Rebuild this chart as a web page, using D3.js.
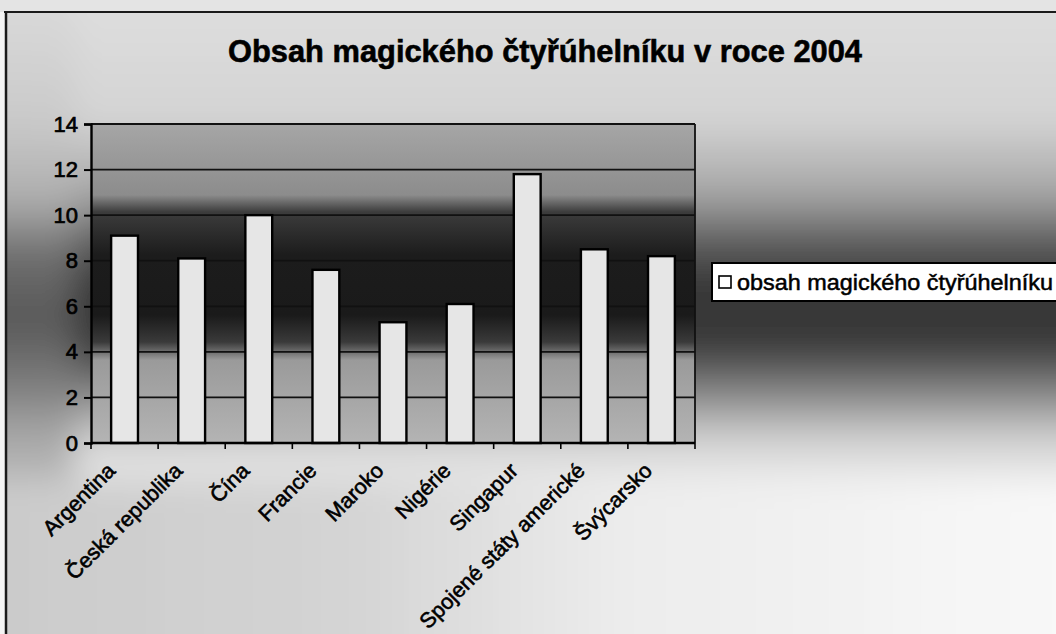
<!DOCTYPE html>
<html>
<head>
<meta charset="utf-8">
<script src="https://cdn.jsdelivr.net/npm/d3@7"></script>
<style>
  html, body { margin: 0; padding: 0; background: #f2f2f2; }
  svg { display: block; }
  text { font-family: "Liberation Sans", Arial, sans-serif; fill: #000; }
</style>
</head>
<body>
<svg id="chart" width="1056" height="634"></svg>
<script>
const titleText = "Obsah magického čtyřúhelníku v roce 2004";
const seriesName = "obsah magického čtyřúhelníku";
const categories = ["Argentina", "Česká republika", "Čína", "Francie", "Maroko", "Nigérie", "Singapur", "Spojené státy americké", "Švýcarsko"];
const values = [9.1, 8.1, 10.0, 7.6, 5.3, 6.1, 11.8, 8.5, 8.2];
const yTicks = [0, 2, 4, 6, 8, 10, 12, 14];

const W = 1056, H = 634;
const plot = { left: 91, right: 695, top: 124, bottom: 443 };

const svg = d3.select("#chart");
const defs = svg.append("defs");

function vGrad(id, stops) {
  const g = defs.append("linearGradient").attr("id", id)
    .attr("gradientUnits", "userSpaceOnUse")
    .attr("x1", 0).attr("x2", 0).attr("y1", 0).attr("y2", H);
  stops.forEach(([y, c]) => g.append("stop").attr("offset", y / H).attr("stop-color", c));
}
function hGrad(id, stops) {
  const g = defs.append("linearGradient").attr("id", id)
    .attr("gradientUnits", "userSpaceOnUse")
    .attr("x1", 0).attr("x2", W).attr("y1", 0).attr("y2", 0);
  stops.forEach(([x, c]) => g.append("stop").attr("offset", x / W).attr("stop-color", c));
}

vGrad("gRight", [[0, "#dedede"], [120, "#d4d4d4"], [195, "#a4a4a4"], [245, "#5a5a5a"], [290, "#343434"], [345, "#3a3a3a"], [395, "#8a8a8a"], [440, "#d2d2d2"], [490, "#f0f0f0"], [634, "#f6f6f6"]]);
vGrad("gMid", [[0, "#dcdcdc"], [124, "#a6a6a6"], [195, "#8c8c8c"], [212, "#3c3c3c"], [255, "#1c1c1c"], [315, "#1a1a1a"], [342, "#3a3a3a"], [360, "#9a9a9a"], [443, "#b4b4b4"], [634, "#dcdcdc"]]);
vGrad("gLeft", [[0, "#dadada"], [120, "#cacaca"], [200, "#adadad"], [255, "#6e6e6e"], [320, "#585858"], [380, "#7a7a7a"], [440, "#aaaaaa"], [520, "#c4c4c4"], [634, "#d2d2d2"]]);
hGrad("gBottom", [[0, "#cbcbcb"], [350, "#d4d4d4"], [620, "#ececec"], [1056, "#f8f8f8"]]);

const blur = defs.append("filter").attr("id", "blur").attr("x", -0.1).attr("y", -0.1).attr("width", 1.2).attr("height", 1.2);
blur.append("feGaussianBlur").attr("stdDeviation", 16);
defs.append("clipPath").attr("id", "frameClip").append("rect")
  .attr("x", 7).attr("y", 13).attr("width", W - 7).attr("height", H - 13);

// page outside the chart frame
svg.append("rect").attr("x", 0).attr("y", 0).attr("width", W).attr("height", H).attr("fill", "#f4f4f4");
svg.append("rect").attr("x", 0).attr("y", 0).attr("width", W).attr("height", 12).attr("fill", "#e4e4e4");

// chart area background (soft blended zones)
const bgClip = svg.append("g").attr("clip-path", "url(#frameClip)");
const bg = bgClip.append("g").attr("filter", "url(#blur)");
bg.append("rect").attr("x", 40).attr("y", -40).attr("width", W + 40).attr("height", H + 80).attr("fill", "url(#gRight)");
bg.append("rect").attr("x", -40).attr("y", -40).attr("width", 115).attr("height", H + 80).attr("fill", "url(#gLeft)");
bg.append("rect").attr("x", -40).attr("y", 480).attr("width", W + 80).attr("height", 220).attr("fill", "url(#gBottom)");

// plot area background (sharp)
svg.append("rect").attr("x", plot.left).attr("y", plot.top)
  .attr("width", plot.right - plot.left).attr("height", plot.bottom - plot.top)
  .attr("fill", "url(#gMid)");

// frame lines
svg.append("line").attr("x1", 4).attr("x2", W).attr("y1", 12).attr("y2", 12).attr("stroke", "#1a1a1a").attr("stroke-width", 2);
svg.append("line").attr("x1", 6).attr("x2", 6).attr("y1", 12).attr("y2", H).attr("stroke", "#1a1a1a").attr("stroke-width", 2.5);

// scales
const x = d3.scaleBand().domain(categories).range([plot.left, plot.right]).paddingInner(0.6).paddingOuter(0.3);
const y = d3.scaleLinear().domain([0, 14]).range([plot.bottom, plot.top]);

// gridlines
svg.append("g").selectAll("line").data(yTicks.filter(d => d > 0)).join("line")
  .attr("x1", plot.left).attr("x2", plot.right)
  .attr("y1", d => y(d)).attr("y2", d => y(d))
  .attr("stroke", "#111").attr("stroke-width", 1.8);

// right border of plot
svg.append("line").attr("x1", plot.right).attr("x2", plot.right).attr("y1", plot.top).attr("y2", plot.bottom)
  .attr("stroke", "#111").attr("stroke-width", 1.8);

// bars
svg.append("g").selectAll("rect").data(values).join("rect")
  .attr("x", (d, i) => x(categories[i]))
  .attr("y", d => y(d))
  .attr("width", x.bandwidth())
  .attr("height", d => y(0) - y(d))
  .attr("fill", "#e6e6e6")
  .attr("stroke", "#000").attr("stroke-width", 2.4);

// y axis
const yAxis = svg.append("g").attr("transform", `translate(${plot.left},0)`)
  .call(d3.axisLeft(y).tickValues(yTicks).tickSize(7).tickPadding(6).tickFormat(d3.format("d")));
yAxis.select(".domain").attr("stroke", "#000").attr("stroke-width", 2.4);
yAxis.selectAll(".tick line").attr("stroke", "#000").attr("stroke-width", 2);
yAxis.selectAll("text").attr("font-size", 22).attr("font-family", "Liberation Sans, Arial, sans-serif")
  .attr("fill", "#000").attr("stroke", "#000").attr("stroke-width", 0.7);

// x axis line and ticks at category boundaries
const xAxis = svg.append("g");
xAxis.append("line").attr("x1", plot.left).attr("x2", plot.right).attr("y1", y(0)).attr("y2", y(0))
  .attr("stroke", "#000").attr("stroke-width", 2.4);
const bounds = d3.range(categories.length + 1).map(i => plot.left + i * x.step());
xAxis.selectAll("line.tk").data(bounds).join("line").attr("class", "tk")
  .attr("x1", d => d).attr("x2", d => d).attr("y1", y(0)).attr("y2", y(0) + 6)
  .attr("stroke", "#000").attr("stroke-width", 1.6);

xAxis.selectAll("text.lbl").data(categories).join("text").attr("class", "lbl")
  .attr("transform", d => `translate(${x(d) + x.bandwidth() / 2 - 8},${y(0) + 29}) rotate(-45)`)
  .attr("text-anchor", "end")
  .attr("font-size", 21.5)
  .attr("stroke", "#000").attr("stroke-width", 0.6)
  .text(d => d);

// title
svg.append("text").attr("x", 545).attr("y", 62).attr("text-anchor", "middle")
  .attr("font-size", 31).attr("font-weight", "bold")
  .attr("stroke", "#000").attr("stroke-width", 0.6)
  .attr("textLength", 634).attr("lengthAdjust", "spacingAndGlyphs")
  .text(titleText);

// legend
const lg = svg.append("g");
lg.append("rect").attr("x", 712).attr("y", 263).attr("width", 360).attr("height", 38)
  .attr("fill", "#fff").attr("stroke", "#000").attr("stroke-width", 2);
lg.append("rect").attr("x", 719).attr("y", 276).attr("width", 12).attr("height", 12)
  .attr("fill", "#fff").attr("stroke", "#000").attr("stroke-width", 1.6);
lg.append("text").attr("x", 737).attr("y", 290).attr("font-size", 22)
  .attr("stroke", "#000").attr("stroke-width", 0.5)
  .attr("textLength", 316).attr("lengthAdjust", "spacingAndGlyphs")
  .text(seriesName);
</script>
</body>
</html>
